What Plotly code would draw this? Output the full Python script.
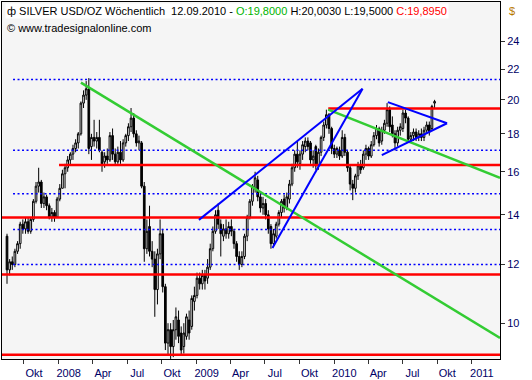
import plotly.graph_objects as go
import pandas as pd
import math

# ---- weekly OHLC (SILVER USD/OZ) ----
opens = [13.1, 11.8, 12.1, 12.0, 12.5, 12.8, 13.6, 13.4, 13.7, 13.3,
         13.8, 14.6, 15.3, 15.5, 14.5, 14.8, 14.4, 13.9, 14.1, 13.9,
         14.7, 15.2, 15.9, 16.2, 16.6, 16.9, 17.2, 17.5, 18.0, 19.8,
         20.3, 20.7, 17.3, 17.8, 17.6, 17.8, 17.0, 16.5, 16.8, 16.6,
         17.9, 16.9, 16.5, 17.0, 16.6, 17.5, 17.9, 18.4, 18.9, 18.0,
         17.5, 17.5, 15.3, 12.6, 13.5, 12.5, 12.2, 11.1, 12.4, 13.2,
         11.2, 9.4, 9.8, 9.3, 9.8, 10.1, 9.7, 9.3, 9.6, 10.1,
         9.9, 10.7, 10.9, 11.5, 11.3, 11.6, 11.5, 11.9, 12.6, 13.3,
         14.2, 13.6, 13.1, 13.4, 13.2, 13.5, 13.3, 12.8, 12.3, 12.0,
         12.3, 13.1, 13.9, 14.6, 15.2, 15.6, 14.8, 14.3, 14.5, 14.0,
         13.5, 12.8, 13.1, 13.6, 14.1, 14.7, 14.3, 14.7, 15.4, 16.2,
         16.9, 16.4, 16.9, 17.3, 17.6, 17.5, 16.6, 17.3, 16.3, 17.0,
         17.8, 18.5, 19.1, 18.3, 17.2, 16.9, 17.1, 16.8, 17.8, 17.0,
         16.2, 15.4, 15.2, 15.8, 16.3, 16.2, 16.9, 17.2, 16.8, 17.4,
         17.9, 18.3, 17.6, 18.2, 18.6, 19.4, 18.5, 18.0, 17.5, 18.2,
         18.3, 19.2, 18.9, 17.7, 17.9, 18.1, 17.8, 18.0, 17.8, 18.2,
         18.5, 18.3, 19.8]
highs = [13.2, 12.2, 12.3, 12.6, 12.9, 13.7, 13.8, 13.9, 13.9, 13.9,
         14.7, 15.5, 16.2, 15.6, 15.0, 14.9, 14.5, 14.3, 14.2, 14.8,
         15.4, 16.1, 16.4, 16.8, 17.0, 17.4, 17.7, 18.1, 19.9, 20.6,
         21.2, 21.4, 18.0, 18.8, 18.1, 18.8, 17.1, 17.0, 17.2, 18.1,
         18.3, 17.2, 17.3, 17.6, 17.7, 18.0, 18.6, 19.5, 19.2, 18.2,
         17.9, 17.6, 15.5, 13.8, 14.4, 12.9, 12.5, 12.6, 13.8, 13.4,
         11.3, 10.0, 10.0, 10.1, 10.5, 10.4, 9.9, 10.0, 10.3, 10.4,
         10.9, 11.2, 11.7, 11.7, 11.8, 11.8, 12.2, 12.8, 13.5, 14.2,
         14.5, 13.8, 13.6, 13.8, 13.7, 13.8, 13.4, 12.9, 12.5, 12.5,
         13.2, 14.0, 14.7, 15.4, 16.0, 15.8, 15.0, 14.8, 14.7, 14.2,
         13.6, 13.4, 13.7, 14.2, 14.7, 14.9, 15.0, 15.6, 16.4, 17.1,
         17.6, 17.1, 17.6, 17.8, 17.8, 17.6, 17.1, 17.4, 17.2, 17.9,
         18.7, 19.4, 19.2, 18.4, 17.4, 17.3, 17.3, 18.2, 18.0, 17.1,
         16.3, 15.6, 15.9, 16.5, 16.6, 17.1, 17.4, 17.3, 17.6, 18.1,
         18.5, 18.4, 18.4, 18.8, 19.8, 19.6, 19.0, 18.2, 18.4, 18.6,
         19.4, 19.4, 19.0, 18.1, 18.3, 18.3, 18.2, 18.3, 18.4, 18.7,
         18.7, 19.7, 20.003]
lows = [11.3, 11.6, 11.8, 11.9, 12.4, 12.6, 13.2, 13.2, 13.2, 13.2,
        13.7, 14.5, 15.0, 14.3, 14.3, 14.2, 13.8, 13.7, 13.7, 13.9,
        14.6, 15.2, 15.2, 16.0, 16.3, 16.6, 17.0, 17.2, 17.9, 19.5,
        20.0, 16.9, 16.6, 17.3, 17.2, 17.0, 16.0, 16.2, 16.4, 16.5,
        16.6, 16.3, 16.4, 16.4, 16.5, 17.3, 17.6, 18.1, 17.8, 17.3,
        17.1, 15.2, 12.1, 12.4, 12.3, 11.9, 10.2, 10.6, 12.2, 11.0,
        9.2, 9.05, 8.95, 9.0, 9.5, 9.4, 9.05, 9.1, 9.5, 9.5,
        9.8, 10.4, 10.8, 11.1, 11.1, 11.1, 11.3, 11.8, 12.5, 13.2,
        13.4, 12.3, 12.9, 13.0, 13.0, 13.1, 12.6, 12.1, 11.8, 11.9,
        12.2, 12.9, 13.8, 14.4, 15.0, 14.6, 14.1, 14.0, 13.8, 13.2,
        12.6, 12.7, 13.0, 13.5, 13.9, 14.1, 14.2, 14.5, 15.3, 16.0,
        16.2, 16.1, 16.6, 17.0, 17.1, 16.4, 16.2, 16.1, 16.1, 16.8,
        17.6, 18.3, 18.0, 16.9, 16.7, 16.7, 16.6, 16.7, 16.8, 16.0,
        15.1, 14.65, 15.0, 15.6, 15.9, 16.1, 16.6, 16.6, 16.7, 17.3,
        17.7, 17.3, 17.4, 18.0, 18.4, 18.1, 17.8, 17.1, 17.3, 17.9,
        18.1, 18.6, 17.5, 17.5, 17.6, 17.6, 17.6, 17.6, 17.6, 18.0,
        17.9, 18.2, 19.5]
closes = [11.8, 12.1, 12.0, 12.5, 12.8, 13.6, 13.4, 13.7, 13.3, 13.8,
          14.6, 15.3, 15.5, 14.5, 14.8, 14.4, 13.9, 14.1, 13.9, 14.7,
          15.2, 15.9, 16.2, 16.6, 16.9, 17.2, 17.5, 18.0, 19.8, 20.3,
          20.7, 17.2, 17.8, 17.6, 17.8, 17.1, 16.4, 16.8, 16.6, 17.9,
          16.9, 16.5, 17.0, 16.6, 17.5, 17.9, 18.4, 18.9, 18.0, 17.5,
          17.6, 15.3, 12.6, 13.3, 12.5, 12.2, 11.1, 12.4, 13.2, 11.2,
          9.4, 9.8, 9.3, 9.8, 10.2, 9.6, 9.2, 9.7, 10.2, 9.7,
          10.8, 10.9, 11.5, 11.3, 11.6, 11.4, 11.9, 12.6, 13.3, 14.0,
          13.6, 13.2, 13.4, 13.2, 13.5, 13.3, 12.8, 12.3, 12.0, 12.3,
          13.1, 13.9, 14.6, 15.3, 15.7, 14.8, 14.3, 14.5, 14.0, 13.4,
          12.8, 13.2, 13.6, 14.1, 14.6, 14.3, 14.8, 15.4, 16.2, 16.9,
          16.5, 16.9, 17.4, 17.6, 17.3, 16.6, 16.8, 16.3, 17.0, 17.8,
          18.5, 19.1, 18.3, 17.2, 16.9, 17.2, 16.8, 17.8, 17.0, 16.2,
          15.4, 15.2, 15.8, 16.3, 16.1, 16.9, 17.2, 16.8, 17.4, 17.9,
          18.3, 17.5, 18.2, 18.6, 19.4, 18.4, 18.0, 17.5, 18.2, 18.4,
          19.2, 18.9, 17.7, 17.9, 18.1, 17.8, 18.0, 17.8, 18.2, 18.5,
          18.1, 19.6, 19.895]
first_week = "2007-08-17"
weeks = pd.date_range(first_week, periods=len(closes), freq="7D")

# ---- axis ticks ----
x_tick_dates = ["2007-10-01", "2008-01-01", "2008-04-01", "2008-07-01", "2008-10-01",
                "2009-01-01", "2009-04-01", "2009-07-01", "2009-10-01", "2010-01-01",
                "2010-04-01", "2010-07-01", "2010-10-01", "2011-01-01"]
x_tick_text = ["Okt", "2008", "Apr", "Jul", "Okt", "2009", "Apr", "Jul", "Okt",
               "2010", "Apr", "Jul", "Okt", "2011"]
y_tick_vals = [10, 12, 14, 16, 18, 20, 22, 24]
x_left, x_right = "2007-08-03 18:00", "2011-03-16 12:00"
y_bottom, y_top = 8.948, 27.10

# ---- drawing tools ----
red_levels = [19.47, 16.34, 13.88, 11.63, 9.07]
red_starts = ["2009-12-16", "2008-01-02", x_left, x_left, x_left]
dotted_levels = [21.3, 17.1, 14.94, 13.37, 12.0]
dotted_start = "2007-09-02"
green_x0 = ["2008-02-29", "2009-12-16"]
green_y0 = [21.1, 19.4]
green_x1 = [x_right, x_right]
green_y1 = [9.55, 15.7]
blue_x0 = ["2009-01-07", "2009-07-21", "2010-05-23", "2010-05-07"]
blue_y0 = [13.78, 12.63, 19.86, 16.85]
blue_x1 = ["2010-03-17", "2010-03-17", "2010-10-27", "2010-10-27"]
blue_y1 = [20.70, 20.70, 18.60, 18.60]

FONT = "Liberation Sans, Arial, sans-serif"

fig = go.Figure()
fig.add_trace(go.Candlestick(
    x=weeks, open=opens, high=highs, low=lows, close=closes,
    increasing=dict(line=dict(color="black", width=1), fillcolor="white"),
    decreasing=dict(line=dict(color="black", width=1), fillcolor="black"),
    whiskerwidth=0, showlegend=False, hoverinfo="skip"))

for lv in dotted_levels:
    fig.add_trace(go.Scatter(x=[dotted_start, x_right], y=[lv, lv], mode="lines",
                             line=dict(color="#0000ff", width=1.5, dash="2px,2.5px"),
                             showlegend=False, hoverinfo="skip"))
for lv, st in zip(red_levels, red_starts):
    fig.add_trace(go.Scatter(x=[st, x_right], y=[lv, lv], mode="lines",
                             line=dict(color="#ff0000", width=2.5),
                             showlegend=False, hoverinfo="skip"))
for a, b, c, d in zip(green_x0, green_y0, green_x1, green_y1):
    fig.add_trace(go.Scatter(x=[a, c], y=[b, d], mode="lines",
                             line=dict(color="#33cc33", width=2.5),
                             showlegend=False, hoverinfo="skip"))
for a, b, c, d in zip(blue_x0, blue_y0, blue_x1, blue_y1):
    fig.add_trace(go.Scatter(x=[a, c], y=[b, d], mode="lines",
                             line=dict(color="#0000ff", width=2),
                             showlegend=False, hoverinfo="skip"))

def fmt(v):
    return f"{v:.4f}".replace(".", ",")

header = ("ф SILVER USD/OZ Wöchentlich&nbsp;&nbsp;12.09.2010 - "
          f"<span style='color:#00b400'>O:{fmt(opens[-1])}</span> "
          f"H:{fmt(highs[-1])} L:{fmt(lows[-1])} "
          f"<span style='color:#ff0000'>C:{fmt(closes[-1])}</span>")

W, H = 532, 380
ml, mr, mt, mb = 1, 32, 1, 20
pw, ph = W - ml - mr, H - mt - mb

fig.add_annotation(text=header, xref="paper", yref="paper",
                   x=(4 - ml) / pw, y=1 - (2 - mt) / ph, xanchor="left", yanchor="top",
                   showarrow=False, bgcolor="white", borderpad=1,
                   font=dict(family=FONT, size=11, color="black"))
fig.add_annotation(text="© www.tradesignalonline.com", xref="paper", yref="paper",
                   x=(4 - ml) / pw, y=1 - (19 - mt) / ph, xanchor="left", yanchor="top",
                   showarrow=False, font=dict(family=FONT, size=11, color="black"))
fig.add_annotation(text="$", xref="paper", yref="paper",
                   x=(507 - ml) / pw, y=1 - (10 - mt) / ph, xanchor="left", yanchor="middle",
                   showarrow=False, font=dict(family=FONT, size=11, color="#b87800"))

fig.update_layout(
    width=W, height=H, margin=dict(l=ml, r=mr, t=mt, b=mb),
    paper_bgcolor="white", plot_bgcolor="#f5f5f5",
    boxgap=0.1,
    xaxis=dict(type="date", range=[x_left, x_right], tickvals=x_tick_dates, ticktext=x_tick_text,
               ticks="outside", ticklen=4, tickcolor="#333333", showgrid=False, zeroline=False,
               showline=True, linecolor="black", linewidth=1, mirror=True,
               tickfont=dict(family=FONT, size=11, color="#000066"), ticklabelshift=10,
               rangeslider=dict(visible=False), fixedrange=True),
    yaxis=dict(type="log", range=[math.log10(y_bottom), math.log10(y_top)], side="right",
               tickvals=y_tick_vals, ticktext=[str(v) for v in y_tick_vals],
               ticks="outside", ticklen=4, tickcolor="#333333", showgrid=False, zeroline=False,
               showline=True, linecolor="black", linewidth=1, mirror=True,
               tickfont=dict(family=FONT, size=11, color="#000066"), fixedrange=True),
)
fig.write_html("out.html")
